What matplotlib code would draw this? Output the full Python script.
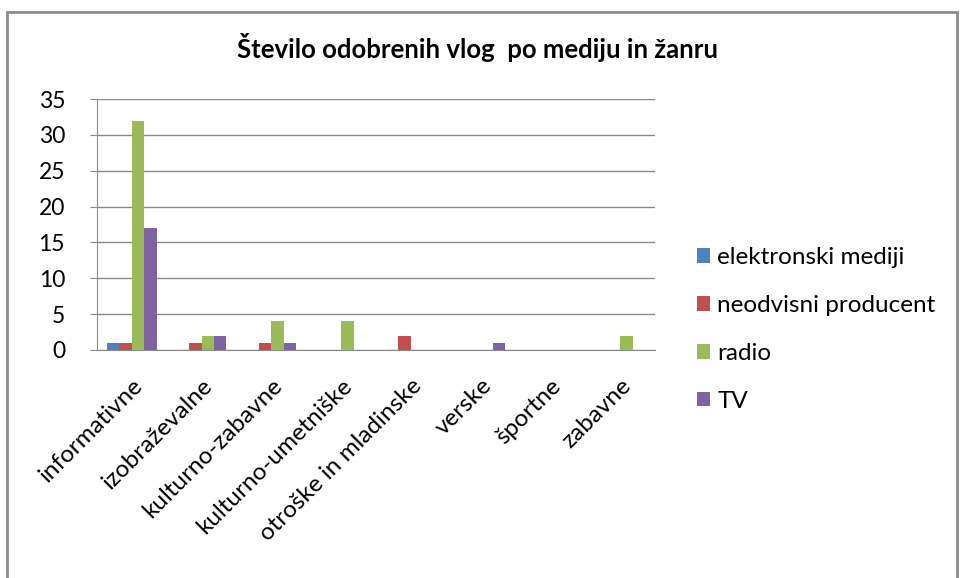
import numpy as np
import matplotlib.pyplot as plt
from matplotlib.patches import Rectangle

plt.rcParams['font.family'] = ['Lato', 'DejaVu Sans']

categories = ["informativne", "izobraževalne", "kulturno-zabavne", "kulturno-umetniške",
              "otroške in mladinske", "verske", "športne", "zabavne"]
series = ["elektronski mediji", "neodvisni producent", "radio", "TV"]
elektronski = [1, 0, 0, 0, 0, 0, 0, 0]
neodvisni = [1, 1, 1, 0, 2, 0, 0, 0]
radio = [32, 2, 4, 4, 0, 0, 0, 2]
tv = [17, 2, 1, 0, 0, 1, 0, 0]
values = [elektronski, neodvisni, radio, tv]
colors = ["#4F81BD", "#C0504D", "#9BBB59", "#8064A2"]

fig = plt.figure(figsize=(9.6, 5.78), dpi=100)
# chart frame
fig.patches.append(Rectangle((7/960, -0.01), 950/960, 1 - 12/578 + 0.01, transform=fig.transFigure,
                             fill=False, edgecolor="#8c8c8c", linewidth=2))

ax = fig.add_axes([97/960, 1 - 350/578, 558/960, 251/578])
x = np.arange(len(categories))
w = 0.178
for i, (name, vals, c) in enumerate(zip(series, values, colors)):
    ax.bar(x + (i - 1.5) * w, vals, w, color=c, label=name, zorder=3)

ax.set_xlim(-0.5, len(categories) - 0.5)
ax.set_ylim(0, 35)
ax.set_yticks(range(0, 36, 5))
ax.yaxis.grid(True, color="#8a8a8a", linewidth=1)
ax.set_axisbelow(True)
for s in ["top", "right"]:
    ax.spines[s].set_visible(False)
ax.spines["left"].set_color("#8a8a8a")
ax.spines["bottom"].set_color("#8a8a8a")
ax.tick_params(axis="y", length=5, color="#8a8a8a", labelsize=16.5, pad=18)
ax.tick_params(axis="x", length=0, pad=18)
ax.set_xticks(x)
ax.set_xticklabels(categories, rotation=45, ha="right", rotation_mode="anchor", fontsize=17.5)

fig.text(0.497, 1 - 47/578, "Število odobrenih vlog  po mediju in žanru", fontsize=18.5,
         fontweight="bold", ha="center", va="center")

fig.legend(loc="center left", bbox_to_anchor=(0.703, 0.430), frameon=False, fontsize=17.5,
           handlelength=0.55, handleheight=0.55, handletextpad=0.3, labelspacing=1.1)

fig.savefig("out.png", dpi=100)
